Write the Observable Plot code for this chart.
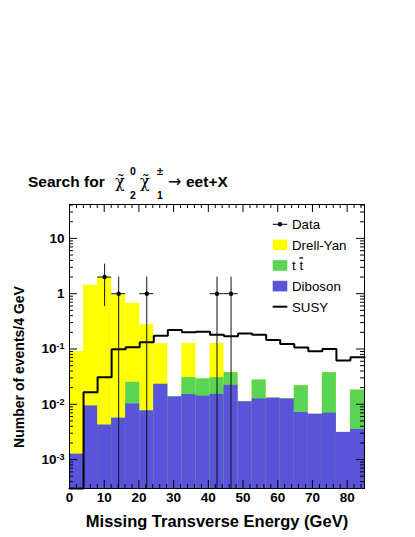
<!DOCTYPE html>
<html><head><meta charset="utf-8">
<script src="https://cdn.jsdelivr.net/npm/d3@7"></script>
<script src="https://cdn.jsdelivr.net/npm/@observablehq/plot@0.6"></script>
<style>
html,body{margin:0;padding:0;background:#fff;}
#wrap{position:relative;width:415px;height:537px;overflow:hidden;background:#fff;font-family:"Liberation Sans",Arial,Helvetica,sans-serif;}
#title{position:absolute;left:0;top:0;z-index:2;pointer-events:none;}
#chart{position:absolute;left:0;top:196px;z-index:1;}
</style></head><body>
<div id="wrap"><svg id="title" width="415" height="203"></svg><div id="chart"></div></div>
<script>
// ---- data ----
const xMax = 85;          // upper edge of the histogram range (GeV)
const nBins = 21;         // number of bins
const dibosonVals  = [0.00125, 0.0093, 0.0042, 0.0056, 0.0101, 0.0076, 0.023, 0.0136, 0.0150, 0.0140, 0.0151, 0.022, 0.0111, 0.0125, 0.0129, 0.0125, 0.0071, 0.0066, 0.0069, 0.0031, 0.0035];
const ttbarVals    = [0, 0, 0, 0, 0.0149, 0, 0, 0, 0.0153, 0.0148, 0.0152, 0.0153, 0, 0.015, 0, 0, 0.0146, 0, 0.0304, 0, 0.0146];
const drellYanVals = [0.0888, 1.41, 1.976, 0.944, 0.645, 0.267, 0.102, 0, 0.095, 0, 0.095, 0, 0, 0, 0, 0, 0, 0, 0, 0, 0];
const susyVals     = [0, 0.0165, 0.0308, 0.099, 0.107, 0.132, 0.174, 0.22, 0.2, 0.206, 0.18, 0.17, 0.19, 0.18, 0.146, 0.123, 0.106, 0.091, 0.1, 0.062, 0.071];
const dataCounts   = [0, 0, 2, 1, 0, 1, 0, 0, 0, 0, 1, 1, 0, 0, 0, 0, 0, 0, 0, 0, 0];
const xTickValues  = [0, 10, 20, 30, 40, 50, 60, 70, 80];
const yTickValues  = [10, 1, 0.1, 0.01, 0.001];
const yTickLabels  = ["10", "1", "10^-1", "10^-2", "10^-3"];
const legendLabels = ["Data", "Drell-Yan", "t t", "Diboson", "SUSY"];
const yDomain = [3.0e-4, 41];
const colDY = "#ffff00", colTT = "#59d454", colDB = "#5954d9";

// ---- build table ----
const bw = xMax / nBins;
const bins = dibosonVals.map((d, i) => {
  const c1 = d, c2 = d + ttbarVals[i], c3 = c2 + drellYanVals[i];
  return {lo: i * bw, hi: (i + 1) * bw, mid: (i + 0.5) * bw, c1, c2, c3, susy: susyVals[i], n: dataCounts[i]};
});
const yMin = yDomain[0];
const susyPts = bins.flatMap(b => [{x: b.lo, y: Math.max(b.susy, yMin)}, {x: b.hi, y: Math.max(b.susy, yMin)}]);
const dataPts = bins.filter(b => b.n > 0);

// axis ticks (ROOT style, inward)
const xMinor = d3.range(0, xMax + 0.001, 2).filter(v => v % 10 !== 0);
const yMinor = [];
for (let e = -4; e <= 1; e++) for (let k = 2; k <= 9; k++) { const v = k * Math.pow(10, e); if (v > yDomain[0] && v < yDomain[1]) yMinor.push(v); }

const W = 415, H = 341, mT = 8, mL = 69, mR = 51, mB = 49;
const fw = W - mL - mR, fh = H - mT - mB;
const MAJ = 8, MIN = 4;

const plot = Plot.plot({
  width: W, height: H,
  marginTop: mT, marginLeft: mL, marginRight: mR, marginBottom: mB,
  style: {fontFamily: "Liberation Sans, Arial, Helvetica, sans-serif", fontSize: "13.5px", fontWeight: "bold", color: "black", background: "transparent"},
  x: {domain: [0, xMax]},
  y: {type: "log", domain: yDomain},
  marks: [
    Plot.rectY(bins, {x1: "lo", x2: "hi", y1: yMin, y2: "c3", fill: colDY}),
    Plot.rectY(bins, {x1: "lo", x2: "hi", y1: yMin, y2: "c2", fill: colTT}),
    Plot.rectY(bins, {x1: "lo", x2: "hi", y1: yMin, y2: "c1", fill: colDB}),
    Plot.line(susyPts, {x: "x", y: "y", stroke: "black", strokeWidth: 2, strokeLinejoin: "miter"}),
    Plot.ruleX(dataPts, {x: "mid", y1: d => Math.max(d.n - Math.sqrt(d.n), yMin), y2: d => d.n + Math.sqrt(d.n), stroke: "#111", strokeWidth: 1}),
    Plot.ruleY(dataPts, {y: "n", x1: "lo", x2: "hi", stroke: "#111", strokeWidth: 1}),
    Plot.dot(dataPts, {x: "mid", y: "n", r: 2.2, fill: "black", stroke: null}),
    // inward ticks
    Plot.ruleX(xTickValues, {x: d => d, insetTop: fh - MAJ, stroke: "black"}),
    Plot.ruleX(xTickValues, {x: d => d, insetBottom: fh - MAJ, stroke: "black"}),
    Plot.ruleX(xMinor, {x: d => d, insetTop: fh - MIN, stroke: "black"}),
    Plot.ruleX(xMinor, {x: d => d, insetBottom: fh - MIN, stroke: "black"}),
    Plot.ruleY(yTickValues, {y: d => d, insetRight: fw - MAJ, stroke: "black"}),
    Plot.ruleY(yTickValues, {y: d => d, insetLeft: fw - MAJ, stroke: "black"}),
    Plot.ruleY(yMinor, {y: d => d, insetRight: fw - MIN, stroke: "black"}),
    Plot.ruleY(yMinor, {y: d => d, insetLeft: fw - MIN, stroke: "black"}),
    Plot.frame({stroke: "black"}),
    Plot.axisX({ticks: xTickValues, tickSize: 0, tickPadding: 4, tickFormat: d => String(d), label: null}),
    Plot.axisY({ticks: yTickValues, tickSize: 0, tickPadding: 5, tickFormat: d => yTickLabels[yTickValues.indexOf(d)], label: null})
  ]
});
document.getElementById("chart").appendChild(plot);

const svg = d3.select(plot);
// superscript exponents on y tick labels
svg.selectAll('[aria-label="y-axis tick label"] text').each(function () {
  const t = this.textContent;
  if (t.includes("^")) {
    const [base, exp] = t.split("^");
    const sel = d3.select(this);
    sel.text(null);
    sel.append("tspan").text(base);
    sel.append("tspan").attr("dy", "-0.45em").attr("font-size", "9px").text(exp);
  }
});

// axis titles
svg.append("text").attr("x", 217).attr("y", 527 - 196).attr("text-anchor", "middle")
  .attr("font-size", 16.5).attr("font-weight", "bold").attr("fill", "black")
  .text("Missing Transverse Energy (GeV)");
svg.append("text").attr("transform", `translate(24,${367 - 196}) rotate(-90)`).attr("text-anchor", "middle")
  .attr("font-size", 14).attr("font-weight", "bold").attr("fill", "black")
  .text("Number of events/4 GeV");

// legend (inside frame, upper right)
const lg = svg.append("g").attr("font-weight", "normal").attr("font-size", 13.3).attr("text-anchor", "start");
const lx0 = 272.7, lx1 = 287.3, tx = 292;
const rows = [224.3, 244.9, 265.5, 286.1, 306.7].map(v => v - 196);
// Data
lg.append("line").attr("x1", lx0).attr("x2", lx1).attr("y1", rows[0]).attr("y2", rows[0]).attr("stroke", "black");
lg.append("circle").attr("cx", (lx0 + lx1) / 2).attr("cy", rows[0]).attr("r", 2.2).attr("fill", "black");
// boxes
[[1, colDY], [2, colTT], [3, colDB]].forEach(([i, c]) => {
  lg.append("rect").attr("x", lx0).attr("y", rows[i] - 5.3).attr("width", lx1 - lx0).attr("height", 10.6).attr("fill", c);
});
// SUSY
lg.append("line").attr("x1", lx0).attr("x2", lx1).attr("y1", rows[4]).attr("y2", rows[4]).attr("stroke", "black").attr("stroke-width", 2);
legendLabels.forEach((lab, i) => {
  const t = lg.append("text").attr("x", tx).attr("y", rows[i] + 4.8).attr("fill", "black");
  if (i === 2) {
    t.append("tspan").text("t ");
    t.append("tspan").attr("text-decoration", "overline").text("t");
  } else t.text(lab);
});

// title
const ts = d3.select("#title").attr("font-family", "Liberation Sans, Arial, Helvetica, sans-serif").attr("text-anchor", "start");
const T = (x, y, s, size, weight, fam) => {
  const e = ts.append("text").attr("x", x).attr("y", y).attr("font-size", size).attr("font-weight", weight || "bold").attr("fill", "black").text(s);
  if (fam) e.attr("font-family", fam);
  return e;
};
T(28, 187, "Search for", 15.5, "bold");
T(115, 187, "\u03c7\u0303", 16, "normal", "DejaVu Serif");
T(130, 175, "0", 10.5, "bold");
T(130, 199, "2", 10.5, "bold");
T(140, 187, "\u03c7\u0303", 16, "normal", "DejaVu Serif");
T(157, 175, "\u00b1", 11, "bold");
T(157, 199, "1", 10.5, "bold");
T(168, 187, "\u2192", 16, "normal", "DejaVu Sans");
T(186, 187, "eet+X", 15.5, "bold");
</script>
</body></html>
